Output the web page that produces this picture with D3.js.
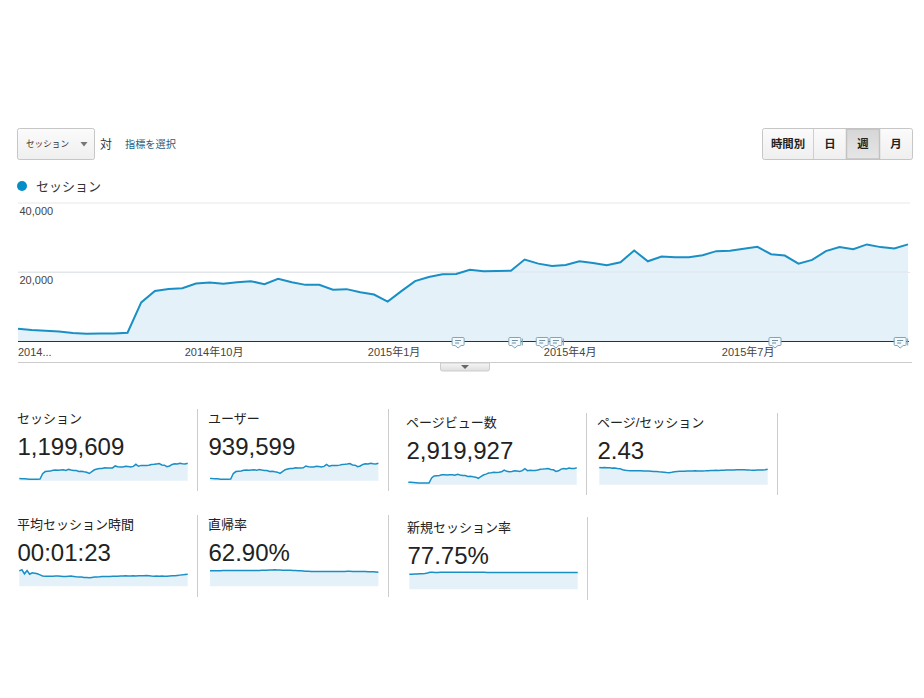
<!DOCTYPE html>
<html>
<head>
<meta charset="utf-8">
<script src="https://cdn.jsdelivr.net/npm/d3@7"></script>
<style>
  html, body { margin: 0; padding: 0; background: #fff; }
  svg { display: block; }
  text { font-family: "Liberation Sans", "Noto Sans CJK JP", sans-serif; fill: #333; }
  .value { fill: #222; }
  .tick-label { fill: #444; }
</style>
</head>
<body>
<svg id="chart" width="924" height="698"></svg>
<script>
// Weekly sessions
var sessions = [
  3690, 3300, 3100, 2900, 2430, 2230, 2330, 2330, 2520, 11250,
  14550, 15130, 15330, 16680, 16980, 16590, 17070, 17360, 16490, 18040,
  17070, 16300, 16300, 14880, 15070, 14200, 13520, 11500, 14490, 17390,
  18550, 19320, 19420, 20670, 20190, 20290, 20380, 23570, 22410, 21730,
  22020, 23090, 22600, 21930, 22800, 26190, 23090, 24440, 24250, 24250,
  24830, 26000, 26090, 26680, 27260, 25120, 24740, 22410, 23470, 26000,
  27160, 26580, 27940, 27160, 26770, 27940
];
var users = [
  2900, 2600, 2400, 2300, 1950, 1800, 1850, 1850, 2000, 8900,
  11400, 11900, 12000, 13000, 13300, 13000, 13300, 13500, 12900, 14000,
  13300, 12700, 12700, 11600, 11800, 11100, 10600, 9100, 11400, 13700,
  14600, 15200, 15300, 16200, 15800, 15900, 16000, 18300, 17500, 17000,
  17200, 18000, 17600, 17100, 17800, 20400, 18000, 19000, 18900, 18900,
  19400, 20300, 20400, 20800, 21300, 19600, 19300, 17500, 18300, 20300,
  21200, 20700, 21800, 21200, 20900, 21800
];
var pageviews = [
  9600, 9100, 8500, 8000, 6700, 6200, 6300, 6300, 6700, 26000,
  34000, 35200, 36000, 38500, 39000, 37500, 38500, 39000, 37000, 40000,
  37500, 35500, 35500, 32000, 32500, 30500, 29200, 24800, 31000, 37500,
  41000, 45000, 46000, 48000, 47500, 48500, 50000, 57000, 52000, 50500,
  51000, 54000, 53000, 51500, 54500, 62000, 54500, 56500, 55500, 55500,
  57000, 60000, 60500, 61500, 63000, 59000, 58000, 51500, 54000, 60500,
  63000, 61000, 65000, 63000, 62500, 66000
];
var pagesPerSession = [
  2.87, 2.82, 2.85, 2.80, 2.82, 2.75, 2.77, 2.70, 2.66, 2.48,
  2.40, 2.36, 2.33, 2.32, 2.30, 2.30, 2.31, 2.28, 2.29, 2.27,
  2.24, 2.20, 2.18, 2.14, 2.12, 2.08, 2.03, 1.99, 2.06, 2.14,
  2.18, 2.22, 2.24, 2.25, 2.26, 2.27, 2.28, 2.30, 2.27, 2.29,
  2.28, 2.30, 2.33, 2.35, 2.37, 2.38, 2.36, 2.38, 2.40, 2.42,
  2.44, 2.43, 2.44, 2.46, 2.48, 2.50, 2.48, 2.44, 2.42, 2.41,
  2.40, 2.42, 2.44, 2.45, 2.48, 2.55
];
var avgDuration = [
  119, 127, 96, 122, 93, 104, 101, 96, 88, 80,
  78, 77, 77, 78, 79, 80, 78, 76, 75, 77,
  79, 76, 73, 71, 72, 68, 67, 65, 68, 71,
  72, 73, 75, 75, 76, 76, 77, 78, 78, 79,
  80, 82, 80, 79, 81, 80, 81, 81, 82, 83,
  81, 79, 78, 79, 78, 79, 78, 77, 79, 81,
  82, 84, 86, 88, 91, 93
];
var bounceRate = [
  64.4, 64.6, 64.8, 65.0, 65.0, 65.2, 65.4, 65.4, 65.6, 65.6,
  65.8, 65.8, 65.6, 65.6, 65.8, 65.8, 66.0, 65.8, 66.0, 66.2,
  66.4, 66.6, 67.0, 67.6, 68.2, 68.6, 68.2, 67.6, 67.2, 67.0,
  66.6, 66.4, 66.0, 65.4, 64.8, 64.2, 63.6, 63.0, 62.4, 62.0,
  61.6, 61.4, 61.2, 61.2, 61.2, 61.4, 61.4, 61.6, 61.6, 61.8,
  61.8, 62.0, 62.0, 62.2, 62.2, 62.0, 62.0, 61.8, 61.6, 61.4,
  61.2, 60.8, 60.4, 60.0, 59.4, 58.8
];
var newSessionRate = [
  70.0, 70.6, 71.2, 71.8, 72.4, 73.2, 74.0, 76.0, 79.4, 79.3,
  79.2, 79.2, 79.3, 79.3, 79.4, 79.4, 79.5, 79.4, 79.4, 79.5,
  79.5, 79.5, 79.6, 79.6, 79.5, 79.5, 79.4, 79.4, 79.3, 79.3,
  79.2, 79.2, 79.1, 79.1, 79.0, 79.0, 78.9, 78.9, 78.8, 78.8,
  78.8, 78.7, 78.7, 78.6, 78.6, 78.6, 78.5, 78.5, 78.5, 78.6,
  78.6, 78.5, 78.5, 78.4, 78.4, 78.4, 78.5, 78.5, 78.4, 78.4,
  78.4, 78.5, 78.5, 78.5, 78.4, 78.4
];

var firstWeek = new Date(2014, 5, 23);
var tickDates = [firstWeek, new Date(2014, 9, 1), new Date(2015, 0, 1), new Date(2015, 3, 1), new Date(2015, 6, 1)];
var tickLabels = ["2014...", "2014年10月", "2015年1月", "2015年4月", "2015年7月"];
var yTicks = [20000, 40000];
var noteDates = [new Date(2015, 1, 3), new Date(2015, 2, 4), new Date(2015, 2, 18), new Date(2015, 2, 25), new Date(2015, 6, 15), new Date(2015, 8, 17)];
var noteStacked = [false, true, false, true, false, true];
var timeButtons = ["時間別", "日", "週", "月"];
var activeButton = "週";

var metricNames = ["セッション", "ユーザー", "ページビュー数", "ページ/セッション", "平均セッション時間", "直帰率", "新規セッション率"];
var metricValues = ["1,199,609", "939,599", "2,919,927", "2.43", "00:01:23", "62.90%", "77.75%"];
var metricSeries = [sessions, users, pageviews, pagesPerSession, avgDuration, bounceRate, newSessionRate];

var LINE = "#1a8fc6", AREA = "#e4f1f9";
var svg = d3.select("#chart");

function week_date(i) {
  return d3.timeDay.offset(firstWeek, i * 7);
}

////////////////////////////////////////////////
// Header controls

var defs = svg.append("defs");
function gradient(id, top, bottom) {
  var g = defs.append("linearGradient").attr("id", id).attr("x2", 0).attr("y2", 1);
  g.append("stop").attr("offset", 0).attr("stop-color", top);
  g.append("stop").attr("offset", 1).attr("stop-color", bottom);
}
gradient("btn", "#fbfbfb", "#efefef");
gradient("btn-on", "#d6d6d6", "#e6e6e6");
gradient("tab", "#f6f6f6", "#dedede");

svg.append("rect")
  .attr("x", 17.5).attr("y", 128.5).attr("width", 77).attr("height", 31).attr("rx", 2)
  .attr("fill", "url(#btn)").attr("stroke", "#c6c6c6");
svg.append("text").attr("x", 26).attr("y", 147).attr("font-size", 8.6).text("セッション");
svg.append("path").attr("d", "M80.5,142h7l-3.5,4.5z").attr("fill", "#777");
svg.append("text").attr("x", 100).attr("y", 148.5).attr("font-size", 12).attr("fill", "#222").text("対");
svg.append("text").attr("x", 125).attr("y", 147.5).attr("font-size", 10.2)
  .style("fill", "#1c5f82").text("指標を選択");

var buttonEdges = [762.5, 813.5, 846.5, 879.5, 912.5];
svg.append("rect")
  .attr("x", 762.5).attr("y", 128.5).attr("width", 150).attr("height", 31).attr("rx", 2)
  .attr("fill", "url(#btn)").attr("stroke", "#c6c6c6");
timeButtons.forEach(function(label, i) {
  var x0 = buttonEdges[i], x1 = buttonEdges[i + 1];
  if (label == activeButton) {
    svg.append("rect")
      .attr("x", x0).attr("y", 129).attr("width", x1 - x0).attr("height", 30)
      .attr("fill", "url(#btn-on)").attr("stroke", "#c2c2c2").attr("stroke-width", 1.5);
  }
  else if (i > 0 && timeButtons[i - 1] != activeButton) {
    svg.append("line").attr("x1", x0).attr("x2", x0).attr("y1", 129).attr("y2", 159).attr("stroke", "#cfcfcf");
  }
  svg.append("text")
    .attr("x", (x0 + x1) / 2).attr("y", 148)
    .attr("text-anchor", "middle").attr("font-size", 11.4).attr("font-weight", "bold")
    .style("fill", "#222").text(label);
});

// Legend
svg.append("circle").attr("cx", 22).attr("cy", 186).attr("r", 5).attr("fill", "#058dc7");
svg.append("text").attr("x", 36).attr("y", 190.5).attr("font-size", 13).text("セッション");

////////////////////////////////////////////////
// Main chart

var x = d3.scaleTime()
  .domain([firstWeek, week_date(sessions.length - 1)])
  .range([18, 908]);
var y = d3.scaleLinear().domain([0, 40000]).range([341.5, 202.5]);

var gridAxis = d3.axisRight(y).tickValues(yTicks).tickSize(892).tickFormat(d3.format(","));
var gridG = svg.append("g").attr("transform", "translate(18,0)").call(gridAxis);
gridG.select(".domain").remove();
gridG.selectAll("line").attr("stroke", "#e8e8e8");
gridG.selectAll("text")
  .attr("x", 1.5).attr("dy", 11.5).attr("text-anchor", "start")
  .attr("class", "tick-label")
  .style("font-size", "11px");

var mainArea = d3.area()
  .x(function(d, i) { return x(week_date(i)); })
  .y0(y(0))
  .y1(function(d) { return y(d); });
var mainLine = mainArea.lineY1();

svg.append("path").datum(sessions).attr("d", mainArea).attr("fill", AREA);
// gridline shows through the fill in the original
svg.append("line")
  .attr("x1", 18).attr("x2", 908).attr("y1", y(20000)).attr("y2", y(20000))
  .attr("stroke", "#dfe6ea");
svg.append("path").datum(sessions).attr("d", mainLine)
  .attr("fill", "none").attr("stroke", LINE).attr("stroke-width", 2);

var xAxis = d3.axisBottom(x)
  .tickValues(tickDates)
  .tickSize(0)
  .tickPadding(7)
  .tickFormat(function(d, i) { return tickLabels[i]; });
var xG = svg.append("g").attr("transform", "translate(0,341)").call(xAxis);
xG.select(".domain").attr("stroke", "#26343c").attr("d", "M18,0.5H909");
xG.selectAll("text")
  .attr("class", "tick-label")
  .style("font-size", "11px")
  .attr("dx", function(d, i) { return i == 0 ? -0.5 : 0; })
  .attr("text-anchor", function(d, i) { return i == 0 ? "start" : "middle"; });

svg.append("line").attr("x1", 18).attr("x2", 912).attr("y1", 362.5).attr("y2", 362.5).attr("stroke", "#ccc");
svg.append("path")
  .attr("d", "M440.5,363v6a2,2 0 0 0 2,2h45a2,2 0 0 0 2,-2v-6z")
  .attr("fill", "url(#tab)").attr("stroke", "#ccc");
svg.append("path").attr("d", "M461,365h8l-4,4z").attr("fill", "#666");

// Annotation bubbles sitting on the baseline
var notes = svg.append("g").selectAll("g").data(noteDates).enter().append("g")
  .attr("transform", function(d) { return "translate(" + x(d) + "," + 337 + ")"; });
notes.filter(function(d, i) { return noteStacked[i]; }).append("path")
  .attr("d", "M7.5,1.5v7").attr("stroke", "#7fa5bb").attr("fill", "none");
notes.append("path")
  .attr("d", "M-5,0.5h10a1,1 0 0 1 1,1v6a1,1 0 0 1 -1,1h-2l-3,2.5l-3,-2.5h-2a1,1 0 0 1 -1,-1v-6a1,1 0 0 1 1,-1z")
  .attr("fill", "#f4f9fc").attr("stroke", "#7fa5bb");
notes.append("path").attr("d", "M-3,3.5h6M-3,6h4").attr("stroke", "#6d8fa3").attr("fill", "none");

////////////////////////////////////////////////
// Metric cards and their sparklines

var cardLayout = [
  {left: 17, top: 409, sparkLeft: 19.3, sparkBase: 480.7, sparkH: 17.5, rule: 197.5, ruleTop: 409, ruleBottom: 491},
  {left: 208, top: 409, sparkLeft: 210, sparkBase: 480.7, sparkH: 17.5, rule: 388.5, ruleTop: 409, ruleBottom: 491},
  {left: 406, top: 413, sparkLeft: 408.3, sparkBase: 484.7, sparkH: 17, rule: 586.5, ruleTop: 413, ruleBottom: 495},
  {left: 597, top: 413, sparkLeft: 599.3, sparkBase: 484.7, sparkH: 17.3, rule: 777.5, ruleTop: 413, ruleBottom: 495},
  {left: 17, top: 515, sparkLeft: 19.3, sparkBase: 586.3, sparkH: 16.5, rule: 197.5, ruleTop: 515, ruleBottom: 597},
  {left: 208, top: 515, sparkLeft: 210, sparkBase: 586.3, sparkH: 16.5, rule: 388.5, ruleTop: 515, ruleBottom: 597},
  {left: 407, top: 518, sparkLeft: 409.3, sparkBase: 589.3, sparkH: 17, rule: 587.5, ruleTop: 517, ruleBottom: 600}
];

metricNames.forEach(function(name, k) {
  var c = cardLayout[k], series = metricSeries[k];
  var g = svg.append("g");

  g.append("text").attr("x", c.left).attr("y", c.top + 14).attr("font-size", 13).style("fill", "#222").text(name);
  g.append("text").attr("class", "value").attr("x", c.left + 0.5).attr("y", c.top + 46)
    .attr("font-size", 24).text(metricValues[k]);

  var sx = d3.scaleLinear().domain([0, series.length - 1]).range([c.sparkLeft, c.sparkLeft + 168.4]);
  var sy = d3.scaleLinear().domain([0, d3.max(series)]).range([c.sparkBase, c.sparkBase - c.sparkH]);
  var area = d3.area()
    .x(function(d, i) { return sx(i); })
    .y0(sy(0))
    .y1(function(d) { return sy(d); });

  g.append("path").datum(series).attr("d", area).attr("fill", AREA);
  g.append("path").datum(series).attr("d", area.lineY1())
    .attr("fill", "none").attr("stroke", LINE).attr("stroke-width", 1.5);
  g.append("line")
    .attr("x1", c.rule).attr("x2", c.rule).attr("y1", c.ruleTop).attr("y2", c.ruleBottom)
    .attr("stroke", "#ccc");
});
</script>
</body>
</html>
